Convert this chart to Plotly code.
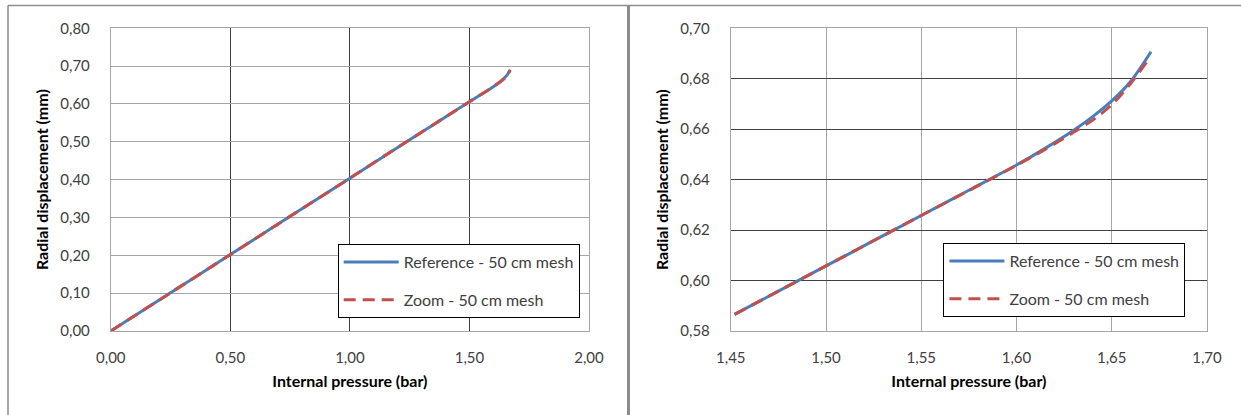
import plotly.graph_objects as go

# Left chart data (full pressure range)
left_ref_x = [0.00, 0.25, 0.50, 0.75, 1.00, 1.25, 1.452, 1.500, 1.550, 1.600, 1.630, 1.650, 1.660, 1.6706]
left_ref_y = [0.000, 0.101, 0.202, 0.303, 0.404, 0.5055, 0.5866, 0.6058, 0.6258, 0.6458, 0.6596, 0.6712, 0.6790, 0.6907]
left_zoom_x = [0.00, 0.25, 0.50, 0.75, 1.00, 1.25, 1.452, 1.500, 1.550, 1.600, 1.630, 1.650, 1.660, 1.6703]
left_zoom_y = [0.000, 0.101, 0.202, 0.303, 0.404, 0.5055, 0.5866, 0.6058, 0.6258, 0.6457, 0.6588, 0.6697, 0.6782, 0.6887]

# Right chart data (zoomed range)
right_ref_x = [1.452, 1.475, 1.500, 1.525, 1.550, 1.575, 1.600, 1.615, 1.630, 1.640, 1.650, 1.660, 1.6706]
right_ref_y = [0.5866, 0.5958, 0.6058, 0.6158, 0.6258, 0.6358, 0.6458, 0.6524, 0.6596, 0.6650, 0.6712, 0.6790, 0.6907]
right_zoom_x = [1.452, 1.475, 1.500, 1.525, 1.550, 1.575, 1.600, 1.615, 1.630, 1.640, 1.650, 1.660, 1.6703]
right_zoom_y = [0.5866, 0.5958, 0.6058, 0.6158, 0.6258, 0.6357, 0.6457, 0.6520, 0.6588, 0.6636, 0.6697, 0.6782, 0.6887]

ref_name = "Reference - 50 cm mesh"
zoom_name = "Zoom - 50 cm mesh"
x_title = "Internal pressure (bar)"
y_title = "Radial displacement (mm)"

BLUE = "#4A7EBB"
RED = "#C0504D"
FONT = "Lato"
W, H = 1241, 415

fig = go.Figure()
line_ref = dict(color=BLUE, width=3, shape="spline", smoothing=0.8)
line_zoom = dict(color=RED, width=3, dash="12px,7px", shape="spline", smoothing=0.8)
fig.add_trace(go.Scatter(x=left_ref_x, y=left_ref_y, mode="lines", name=ref_name, line=line_ref,
                         xaxis="x", yaxis="y", legend="legend", legendgroup="a"))
fig.add_trace(go.Scatter(x=left_zoom_x, y=left_zoom_y, mode="lines", name=zoom_name, line=line_zoom,
                         xaxis="x", yaxis="y", legend="legend", legendgroup="b"))
fig.add_trace(go.Scatter(x=right_ref_x, y=right_ref_y, mode="lines", name=ref_name, line=line_ref,
                         xaxis="x2", yaxis="y2", legend="legend2", legendgroup="c"))
fig.add_trace(go.Scatter(x=right_zoom_x, y=right_zoom_y, mode="lines", name=zoom_name, line=line_zoom,
                         xaxis="x2", yaxis="y2", legend="legend2", legendgroup="d"))

def px(x):
    return x / W

def py(y):
    return 1 - y / H

ydom = [py(331), py(28.3)]
DARK = "#404040"
LIGHT = "#A6A6A6"
tickfont = dict(family=FONT, size=15, color="#404040")
titlefont = dict(family=FONT, size=16, color="#000000", weight="bold")

common_x = dict(showline=True, mirror=True, linecolor=LIGHT, linewidth=1, zeroline=False,
                tickfont=tickfont, tickformat=".2f", ticks="", ticklabelstandoff=13,
                automargin=False,
                title=dict(text=x_title, font=titlefont, standoff=10))
common_y = dict(showline=True, mirror=True, linecolor=LIGHT, linewidth=1, zeroline=False,
                tickfont=tickfont, tickformat=".2f", ticks="", ticklabelstandoff=17,
                automargin=False,
                title=dict(text=y_title, font=titlefont, standoff=7))

legend_common = dict(xanchor="left", yanchor="top",
                     bordercolor="#000000", borderwidth=1, bgcolor="white",
                     font=dict(family=FONT, size=16, color="#404040"),
                     traceorder="grouped", tracegroupgap=14, itemwidth=55)

fig.update_layout(
    width=W, height=H,
    margin=dict(l=0, r=0, t=0, b=0, autoexpand=False),
    paper_bgcolor="white", plot_bgcolor="white",
    separators=",.",
    font=dict(family=FONT),
    xaxis=dict(domain=[px(110.8), px(589)], range=[0, 2], dtick=0.5, anchor="y",
               gridcolor=DARK, gridwidth=1, **common_x),
    yaxis=dict(domain=ydom, range=[0, 0.8], dtick=0.1, anchor="x",
               gridcolor=LIGHT, gridwidth=1, **common_y),
    xaxis2=dict(domain=[px(730.8), px(1207)], range=[1.45, 1.70], dtick=0.05, anchor="y2",
                gridcolor=LIGHT, gridwidth=1, **common_x),
    yaxis2=dict(domain=ydom, range=[0.58, 0.70], dtick=0.02, anchor="x2",
                gridcolor=DARK, gridwidth=1, **common_y),
    legend=dict(x=px(337.7), y=py(244), **legend_common),
    legend2=dict(x=px(943.4), y=py(243), **legend_common),
    showlegend=True,
    shapes=[
        dict(type="line", xref="paper", yref="paper", x0=px(8), x1=px(8), y0=py(5.5), y1=py(415),
             line=dict(color="#8C8C8C", width=1.5)),
        dict(type="line", xref="paper", yref="paper", x0=px(8), x1=1, y0=py(5.5), y1=py(5.5),
             line=dict(color="#8C8C8C", width=1.5)),
        dict(type="line", xref="paper", yref="paper", x0=px(628.5), x1=px(628.5), y0=py(5.5), y1=py(415),
             line=dict(color="#8C8C8C", width=3)),
    ],
)

fig.write_html("out.html", config={"displayModeBar": False},
               post_script="document.body.style.margin='0px';")
